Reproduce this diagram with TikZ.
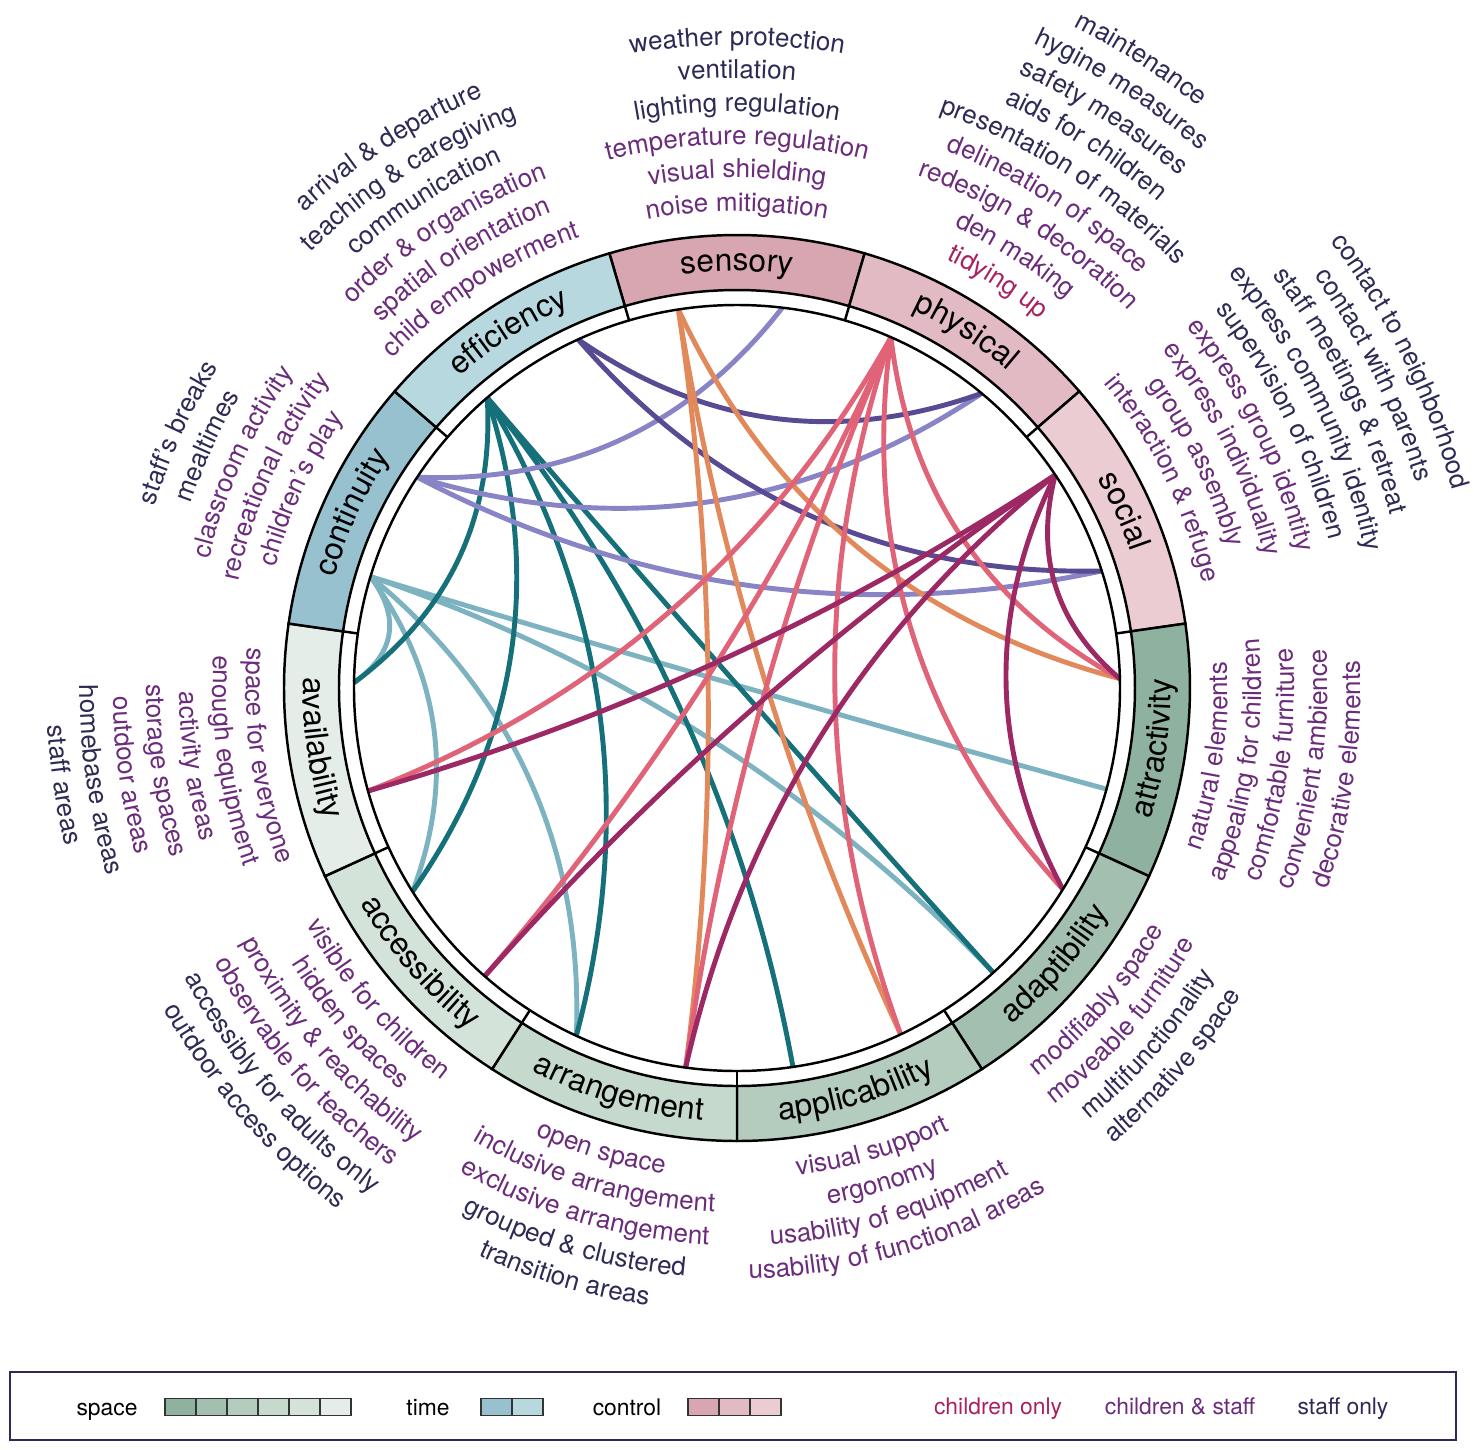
\documentclass[tikz,border=0pt]{standalone}
\usepackage{fontspec}
\setmainfont{TeX Gyre Heros}
\usetikzlibrary{calc,decorations.text}

\definecolor{spA}{HTML}{8FB19F}
\definecolor{spB}{HTML}{A3BFAF}
\definecolor{spC}{HTML}{B4CCBE}
\definecolor{spD}{HTML}{C5D9CD}
\definecolor{spE}{HTML}{D4E3DA}
\definecolor{spF}{HTML}{E4EDE8}
\definecolor{tiA}{HTML}{97C1CE}
\definecolor{tiB}{HTML}{B8D8DF}
\definecolor{coA}{HTML}{D8A6B1}
\definecolor{coB}{HTML}{E2BAC3}
\definecolor{coC}{HTML}{EACCD2}
\definecolor{kid}{HTML}{A82262}
\definecolor{both}{HTML}{6B2C7B}
\definecolor{staff}{HTML}{2D2A55}
\definecolor{tealD}{HTML}{15707A}
\definecolor{tealL}{HTML}{7DB3C1}
\definecolor{lav}{HTML}{8984C6}
\definecolor{pur}{HTML}{584A93}
\definecolor{ora}{HTML}{E2895C}
\definecolor{pnk}{HTML}{E06377}
\definecolor{mag}{HTML}{9C2864}

\newcommand\labfont{\fontsize{14.8pt}{17pt}\selectfont}
\newcommand\segfont{\fontsize{18pt}{21pt}\selectfont}
\newcommand\legfont{\fontsize{13pt}{15pt}\selectfont}
\newcommand\seglab[3]{%
	\foreach \txt/\col [count=\j from 0] in {#3}{%
		\pgfmathsetmacro\rad{484+33.2*\j-7*#2}%
		\path[decorate,decoration={text along path,text align=center,
			text/.expanded={|\noexpand\labfont\noexpand\color{\col}|\txt}}]
			(#1+40*#2:\rad) arc[start angle=#1+40*#2,end angle=#1-40*#2,radius=\rad];}}

\begin{document}
\begin{tikzpicture}[x=0.2mm,y=0.2mm,
	ring/.style={draw=black,line width=1.4pt},
	link/.style={line width=2.8pt,to path={let \p1=($(\tikztostart)!.5!(\tikztotarget)$), \n1={veclen(\x1,\y1)}, \p2=($(0,0)!{0.87*pow(\n1/217.95,1.5)*\n1}!(\p1)$) in .. controls ($(\tikztostart)!.6667!(\p2)$) and ($(\tikztotarget)!.6667!(\p2)$) .. (\tikztotarget)}},
	legbox/.style={draw=black!80,line width=0.6pt,minimum width=6.2mm,minimum height=3.4mm,inner sep=0pt},
	legtxt/.style={font=\legfont,inner sep=0pt,anchor=base}]
	\useasboundingbox (-737,-761) rectangle (737,688);
	\foreach \N/\A in {sen1/98.8, sen2/83.2, phy1/66.3, phy2/50.3, soc1/33.8, soc2/17.8, att1/1.4, att2/-15.3, ada1/-31.7, ada2/-48, app1/-64.7, app2/-81.6, arr1/-97.7, arr2/-114.8, acc1/-131.2, acc2/-147.9, avl1/-164.4, avl2/-180.8, con1/163.1, con2/146.6, eff1/130.7, eff2/114.5}
	{\coordinate (\N) at (\A:383);}
	\foreach \T in {avl2,acc2,arr2,ada2,att2} \draw[link,tealL] (con1) to (\T);
	\foreach \T in {avl2,acc2,arr2,app2,ada2} \draw[link,tealD] (eff1) to (\T);
	\foreach \T in {sen2,phy2,soc2} \draw[link,lav] (con2) to (\T);
	\foreach \T in {phy2,soc2} \draw[link,pur] (eff2) to (\T);
	\foreach \T in {att1,app1,arr1} \draw[link,ora] (sen1) to (\T);
	\foreach \T in {avl1,acc1,arr1,app1,ada1,att1} \draw[link,pnk] (phy1) to (\T);
	\foreach \T in {avl1,acc1,arr1,ada1,att1} \draw[link,mag] (soc1) to (\T);
	\draw[ring] (0,0) circle[radius=383];
	\foreach \W/\K/\D [count=\I from 0] in {sensory/coA/1, physical/coB/1, social/coC/1, attractivity/spA/-1, adaptibility/spB/-1, applicability/spC/-1, arrangement/spD/-1, accessibility/spE/-1, availability/spF/-1, continuity/tiA/1, efficiency/tiB/1}{
		\pgfmathsetmacro\angA{106.3636-32.7273*\I}
		\pgfmathsetmacro\angB{\angA-32.7273}
		\pgfmathsetmacro\angM{\angA-16.3636}
		\pgfmathsetmacro\rad{425.5-8.5*\D}
		\draw[ring,fill=\K] (\angA:398) arc[start angle=\angA,end angle=\angB,radius=398] -- (\angB:453) arc[start angle=\angB,end angle=\angA,radius=453] -- cycle;
		\draw[ring] (\angA:383) -- (\angA:398);
		\path[decorate,decoration={text along path,text align=center,text/.expanded={|\noexpand\segfont|\W}}] (\angM+40*\D:\rad) arc[start angle=\angM+40*\D,end angle=\angM-40*\D,radius=\rad];
	}
	\seglab{90}{1}{noise mitigation/both, visual shielding/both, temperature regulation/both, lighting regulation/staff, ventilation/staff, weather protection/staff}
	\seglab{57.2727}{1}{tidying up/kid, den making/both, redesign {\&} decoration/both, delineation of space/both, presentation of materials/staff, aids for children/staff, safety measures/staff, hygine measures/staff, maintenance/staff}
	\seglab{26.2}{1}{interaction {\&} refuge/both, group assembly/both, express individuality/both, express group identity/both, supervision of children/staff, express community identity/staff, staff meetings {\&} retreat/staff, contact with parents/staff, contact to neighborhood/staff}
	\seglab{-8.1818}{-1}{natural elements/both, appealing for children/both, comfortable furniture/both, convenient ambience/both, decorative elements/both}
	\seglab{-40.9091}{-1}{modifiably space/both, moveable furniture/both, multifunctionality/staff, alternative space/staff}
	\seglab{-73.6364}{-1}{visual support/both, ergonomy/both, usability of equipment/both, usability of functional areas/both}
	\seglab{-106.3636}{-1}{open space/both, inclusive arrangement/both, exclusive arrangement/both, grouped {\&} clustered/staff, transition areas/staff}
	\seglab{-139.0909}{-1}{visible for children/both, hidden spaces/both, proximity {\&} reachability/both, observable for teachers/both, accessibly for adults only/staff, outdoor access options/staff}
	\seglab{-171.8182}{-1}{space for everyone/both, enough equipment/both, activity areas/both, storage spaces/both, outdoor areas/both, homebase areas/staff, staff areas/staff}
	\seglab{155.4545}{1}{children’s play/both, recreational activity/both, classroom activity/both, mealtimes/staff, staff’s breaks/staff}
	\seglab{122.7273}{1}{child empowerment/both, spatial orientation/both, order {\&} organisation/both, communication/staff, teaching {\&} caregiving/staff, arrival {\&} departure/staff}
	\node[draw=staff,line width=1pt,minimum width=289.2mm,minimum height=13.6mm,inner sep=0pt] (legend) at (-4,-718) {};
	\node[legtxt] (lspace) at (-630,-727) {space};
	\foreach \K [count=\I] in {spA,spB,spC,spD,spE,spF} \node[legbox,fill=\K] (sp\I) at (-587.5+31*\I,-719) {};
	\node[legtxt] (ltime) at (-309,-727) {time};
	\foreach \K [count=\I] in {tiA,tiB} \node[legbox,fill=\K] (ti\I) at (-271.5+31*\I,-719) {};
	\node[legtxt] (lcontrol) at (-110,-727) {control};
	\foreach \K [count=\I] in {coA,coB,coC} \node[legbox,fill=\K] (co\I) at (-64.5+31*\I,-719) {};
	\node[legtxt,text=kid] (lkid) at (261,-726) {children only};
	\node[legtxt,text=both] (lboth) at (443,-726) {children \& staff};
	\node[legtxt,text=staff] (lstaff) at (606,-726) {staff only};
\end{tikzpicture}
\end{document}
